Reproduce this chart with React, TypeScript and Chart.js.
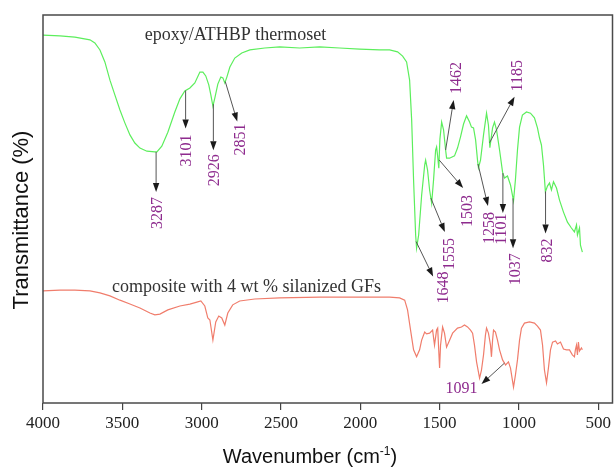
import React, { useEffect, useRef } from "react";
import { Chart, registerables } from "chart.js";

Chart.register(...registerables);

// FTIR spectrum of the neat thermoset (upper trace)
const epoxyWavenumbers = [
  4000, 3893, 3799, 3704, 3673, 3641, 3610, 3578, 3547, 3515, 3484, 3452, 3421, 3389, 3345, 3295, 3282, 3251,
  3213, 3169, 3137, 3106, 3074, 3043, 3011, 2992, 2974, 2955, 2942, 2929, 2917, 2898, 2879, 2866, 2854, 2841,
  2822, 2791, 2747, 2696, 2602, 2508, 2382, 2256, 2130, 2004, 1878, 1815, 1765, 1733, 1708, 1689, 1676, 1664,
  1651, 1645, 1632, 1613, 1594, 1588, 1576, 1563, 1550, 1538, 1525, 1519, 1512, 1505, 1498, 1487, 1475, 1462,
  1456, 1437, 1406, 1387, 1368, 1349, 1330, 1311, 1299, 1286, 1273, 1261, 1255, 1242, 1223, 1204, 1192, 1183,
  1166, 1154, 1141, 1122, 1103, 1091, 1072, 1053, 1034, 1022, 1009, 996, 978, 952, 927, 902, 883, 870, 858, 845,
  833, 820, 807, 795, 782, 763, 744, 719, 694, 669, 650, 637, 631, 618, 612, 600,
];
const epoxyTransmittance = [
  94.8, 94.6, 94.3, 93.6, 92.8, 91.0, 87.9, 83.2, 79.4, 75.5, 72.2, 69.1, 67.0, 65.7, 64.9, 64.7, 64.7, 66.2,
  69.8, 75.0, 78.4, 80.4, 81.2, 82.5, 85.3, 85.3, 84.3, 82.0, 79.4, 76.5, 78.6, 82.2, 84.0, 83.8, 82.5, 84.0,
  86.6, 88.9, 90.2, 91.0, 91.5, 91.8, 91.5, 91.8, 91.5, 91.2, 91.0, 91.0, 90.5, 89.4, 87.9, 83.2, 72.9, 57.5,
  43.3, 39.9, 43.3, 53.6, 61.3, 62.6, 60.1, 54.9, 51.5, 57.5, 65.2, 66.0, 63.5, 60.5, 68.0, 72.4, 70.4, 65.2,
  63.1, 63.1, 63.7, 65.7, 68.6, 71.9, 74.0, 72.4, 71.1, 70.9, 67.8, 62.6, 60.6, 62.6, 69.1, 74.7, 71.6, 65.8,
  70.9, 72.4, 70.4, 65.2, 59.5, 58.0, 58.5, 56.2, 52.1, 57.5, 65.2, 71.1, 74.2, 75.0, 74.7, 73.5, 70.9, 68.3,
  66.5, 61.3, 54.4, 55.9, 56.7, 54.9, 57.0, 55.4, 52.3, 49.2, 46.6, 45.1, 44.1, 45.9, 43.3, 45.1, 40.7, 38.9,
];

// FTIR spectrum of the glass-fibre composite (lower trace)
const compositeWavenumbers = [
  4000, 3893, 3799, 3704, 3641, 3578, 3515, 3452, 3389, 3326, 3295, 3263, 3213, 3137, 3074, 3030, 3005, 2980,
  2961, 2948, 2929, 2911, 2892, 2873, 2854, 2835, 2804, 2760, 2665, 2508, 2256, 2004, 1815, 1752, 1720, 1702,
  1683, 1664, 1645, 1626, 1613, 1594, 1582, 1563, 1544, 1532, 1519, 1512, 1500, 1494, 1481, 1469, 1456, 1437,
  1418, 1387, 1362, 1343, 1324, 1305, 1292, 1280, 1267, 1248, 1236, 1223, 1211, 1204, 1192, 1179, 1173, 1166,
  1160, 1148, 1135, 1122, 1103, 1084, 1066, 1053, 1034, 1022, 1009, 996, 984, 965, 933, 902, 883, 864, 851, 839,
  826, 814, 801, 788, 769, 757, 738, 719, 700, 681, 663, 650, 644, 637, 631, 625, 618, 606, 600,
];
const compositeTransmittance = [
  28.9, 29.1, 29.1, 28.9, 28.4, 27.6, 26.5, 25.5, 24.5, 23.2, 22.7, 22.9, 24.0, 25.0, 25.5, 26.0, 26.3, 25.0,
  21.9, 21.4, 16.2, 20.9, 22.4, 21.9, 20.1, 23.2, 25.3, 26.3, 26.8, 27.1, 27.3, 27.3, 27.3, 27.1, 26.5, 24.0,
  18.8, 13.7, 11.9, 13.7, 16.2, 18.3, 17.8, 18.0, 18.8, 14.9, 18.8, 19.3, 9.0, 14.9, 19.6, 18.0, 14.4, 16.2,
  18.0, 19.3, 19.6, 20.1, 19.6, 18.8, 18.0, 14.9, 10.6, 6.4, 8.5, 12.4, 17.5, 19.3, 18.0, 14.9, 11.9, 16.2,
  18.8, 18.3, 16.2, 13.7, 11.1, 9.8, 10.6, 9.0, 4.1, 7.2, 11.1, 16.2, 19.3, 20.6, 20.9, 20.6, 19.8, 18.8, 14.9,
  8.5, 5.2, 9.0, 13.7, 15.7, 16.0, 15.2, 15.7, 13.9, 13.7, 13.7, 12.4, 11.9, 13.7, 14.9, 12.4, 15.7, 13.4, 14.2,
  13.7,
];

const xTickValues = [4000, 3500, 3000, 2500, 2000, 1500, 1000, 500];

// Assigned band positions (cm-1) and the trace each one points at
const peakLabels = ["3287", "3101", "2926", "2851", "1648", "1555", "1503", "1462", "1258", "1185", "1101", "1037", "832", "1091"];
const peakWavenumbers = [3287, 3101, 2926, 2851, 1648, 1555, 1503, 1462, 1258, 1185, 1101, 1037, 832, 1091];
const peakTraces = ["epoxy", "epoxy", "epoxy", "epoxy", "epoxy", "epoxy", "epoxy", "epoxy", "epoxy", "epoxy", "epoxy", "epoxy", "epoxy", "composite"];

// Arrow geometry in pixels: head offset from the band, label centre offset from the head
const arrowLayout = [
  { dx: 0, dy: 40, lx: 1, ly: 21, rotate: true },
  { dx: 0, dy: 38, lx: 0, ly: 22, rotate: true },
  { dx: 0, dy: 46, lx: 0, ly: 20, rotate: true },
  { dx: 12, dy: 40, lx: 3, ly: 18, rotate: true },
  { dx: 17, dy: 35, lx: 10, ly: 11, rotate: true },
  { dx: 14, dy: 34, lx: 4, ly: 22, rotate: true },
  { dx: 24, dy: 28, lx: 4, ly: 23, rotate: true },
  { dx: 8, dy: -50, lx: 2, ly: -22, rotate: true },
  { dx: 10, dy: 42, lx: 1, ly: 22, rotate: true },
  { dx: 25, dy: -46, lx: 2, ly: -21, rotate: true },
  { dx: 0, dy: 40, lx: -2, ly: 16, rotate: true },
  { dx: 0, dy: 50, lx: 2, ly: 21, rotate: true },
  { dx: 0, dy: 42, lx: 1, ly: 17, rotate: true },
  { dx: -23, dy: 21, lx: -20, ly: 5, rotate: false },
];

const traceNames = ["epoxy/ATHBP thermoset", "composite with 4 wt % silanized GFs"];
const traceNameWavenumbers = [3358, 3565];
const traceNameLevels = [94.8, 29.9];

const SERIF = '"Times New Roman", "Liberation Serif", serif';
const SANS = 'Arial, "Liberation Sans", sans-serif';
const GREEN = "#5cee5c";
const SALMON = "#f07d6c";
const PURPLE = "#8e2b8e";

function valueAt(ws: number[], vs: number[], w: number): number {
  for (let i = 0; i < ws.length - 1; i++) {
    const a = ws[i];
    const b = ws[i + 1];
    if ((w <= a && w >= b) || (w >= a && w <= b)) {
      const t = a === b ? 0 : (w - a) / (b - a);
      return vs[i] + t * (vs[i + 1] - vs[i]);
    }
  }
  return vs[vs.length - 1];
}

const framePlugin = {
  id: "frame",
  afterDraw(chart: any) {
    const { ctx, chartArea } = chart;
    ctx.save();
    ctx.strokeStyle = "#4a4a4a";
    ctx.lineWidth = 1.5;
    ctx.strokeRect(chartArea.left, chartArea.top, chartArea.right - chartArea.left, chartArea.bottom - chartArea.top);
    ctx.restore();
  },
};

const titlesPlugin = {
  id: "axisTitles",
  afterDraw(chart: any) {
    const { ctx, chartArea } = chart;
    ctx.save();
    ctx.fillStyle = "#111";
    // x axis title with superscript
    const main = "Wavenumber (cm";
    const sup = "-1";
    const close = ")";
    ctx.font = `20px ${SANS}`;
    const wMain = ctx.measureText(main).width;
    const wClose = ctx.measureText(close).width;
    ctx.font = `12px ${SANS}`;
    const wSup = ctx.measureText(sup).width;
    const total = wMain + wSup + wClose;
    const cx = chartArea.left + 267;
    const baseY = chartArea.bottom + 60;
    let x = cx - total / 2;
    ctx.textBaseline = "alphabetic";
    ctx.textAlign = "left";
    ctx.font = `20px ${SANS}`;
    ctx.fillText(main, x, baseY);
    x += wMain;
    ctx.font = `12px ${SANS}`;
    ctx.fillText(sup, x, baseY - 8);
    x += wSup;
    ctx.font = `20px ${SANS}`;
    ctx.fillText(close, x, baseY);

    // y axis title
    ctx.translate(chartArea.left - 21, chartArea.top + 205);
    ctx.rotate(-Math.PI / 2);
    ctx.font = `22px ${SANS}`;
    ctx.textAlign = "center";
    ctx.textBaseline = "middle";
    ctx.fillText("Transmittance (%)", 0, 0);
    ctx.restore();
  },
};

const annotationsPlugin = {
  id: "bandAnnotations",
  afterDatasetsDraw(chart: any) {
    const { ctx } = chart;
    const xs = chart.scales.x;
    const ys = chart.scales.y;
    ctx.save();

    // trace names
    ctx.fillStyle = "#333";
    ctx.font = `18px ${SERIF}`;
    ctx.textAlign = "left";
    ctx.textBaseline = "middle";
    traceNames.forEach((name, i) => {
      ctx.fillText(name, xs.getPixelForValue(traceNameWavenumbers[i]), ys.getPixelForValue(traceNameLevels[i]));
    });

    peakLabels.forEach((label, i) => {
      const w = peakWavenumbers[i];
      const isEpoxy = peakTraces[i] === "epoxy";
      const v = isEpoxy
        ? valueAt(epoxyWavenumbers, epoxyTransmittance, w)
        : valueAt(compositeWavenumbers, compositeTransmittance, w);
      const lay = arrowLayout[i];
      const x0 = xs.getPixelForValue(w);
      const y0 = ys.getPixelForValue(v);
      const x1 = x0 + lay.dx;
      const y1 = y0 + lay.dy;
      const ang = Math.atan2(y1 - y0, x1 - x0);
      const headLen = 9;
      const headHalf = 3.2;
      const bx = x1 - headLen * Math.cos(ang);
      const by = y1 - headLen * Math.sin(ang);

      ctx.strokeStyle = "#555";
      ctx.lineWidth = 1;
      ctx.beginPath();
      ctx.moveTo(x0, y0);
      ctx.lineTo(bx, by);
      ctx.stroke();

      ctx.fillStyle = "#1a1a1a";
      ctx.beginPath();
      ctx.moveTo(x1, y1);
      ctx.lineTo(bx + headHalf * Math.sin(ang), by - headHalf * Math.cos(ang));
      ctx.lineTo(bx - headHalf * Math.sin(ang), by + headHalf * Math.cos(ang));
      ctx.closePath();
      ctx.fill();

      ctx.fillStyle = PURPLE;
      ctx.font = `16px ${SERIF}`;
      ctx.textAlign = "center";
      ctx.textBaseline = "middle";
      const lx = x1 + lay.lx;
      const ly = y1 + lay.ly;
      if (lay.rotate) {
        ctx.save();
        ctx.translate(lx, ly);
        ctx.rotate(-Math.PI / 2);
        ctx.fillText(label, 0, 1);
        ctx.restore();
      } else {
        ctx.fillText(label, lx, ly);
      }
    });
    ctx.restore();
  },
};

export default function App() {
  const canvasRef = useRef<HTMLCanvasElement | null>(null);

  useEffect(() => {
    document.body.style.margin = "0";
    const canvas = canvasRef.current;
    if (!canvas) return;

    const chart = new Chart(canvas, {
      type: "line",
      data: {
        datasets: [
          {
            label: traceNames[0],
            data: epoxyWavenumbers.map((w, i) => ({ x: w, y: epoxyTransmittance[i] })),
            borderColor: GREEN,
            borderWidth: 1.2,
            pointRadius: 0,
            tension: 0,
            fill: false,
          },
          {
            label: traceNames[1],
            data: compositeWavenumbers.map((w, i) => ({ x: w, y: compositeTransmittance[i] })),
            borderColor: SALMON,
            borderWidth: 1.2,
            pointRadius: 0,
            tension: 0,
            fill: false,
          },
        ],
      },
      options: {
        responsive: false,
        animation: false,
        devicePixelRatio: 1,
        layout: { padding: { top: 15, right: 1, left: 0, bottom: 0 } },
        plugins: {
          legend: { display: false },
          tooltip: { enabled: false },
        },
        scales: {
          x: {
            type: "linear",
            reverse: true,
            min: 410,
            max: 4000,
            afterBuildTicks: (scale: any) => {
              scale.ticks = xTickValues.map((v) => ({ value: v }));
            },
            afterFit: (scale: any) => {
              scale.height = 65;
            },
            grid: {
              display: true,
              drawOnChartArea: false,
              drawTicks: true,
              tickLength: 7,
              color: "#444",
              lineWidth: 1.2,
            },
            border: { display: false },
            ticks: {
              color: "#222",
              font: { family: SERIF, size: 17 },
              padding: 3,
              maxRotation: 0,
              autoSkip: false,
              callback: (v: any) => String(v),
            },
          },
          y: {
            type: "linear",
            min: 0,
            max: 100,
            afterFit: (scale: any) => {
              scale.width = 43;
            },
            grid: { display: false },
            border: { display: false },
            ticks: { display: false },
          },
        },
      },
      plugins: [framePlugin, annotationsPlugin, titlesPlugin],
    } as any);

    return () => chart.destroy();
  }, []);

  return (
    <div style={{ position: "absolute", left: 0, top: 0, width: 614, height: 468, background: "#fff" }}>
      <canvas ref={canvasRef} width={614} height={468} style={{ width: 614, height: 468, display: "block" }} />
    </div>
  );
}
